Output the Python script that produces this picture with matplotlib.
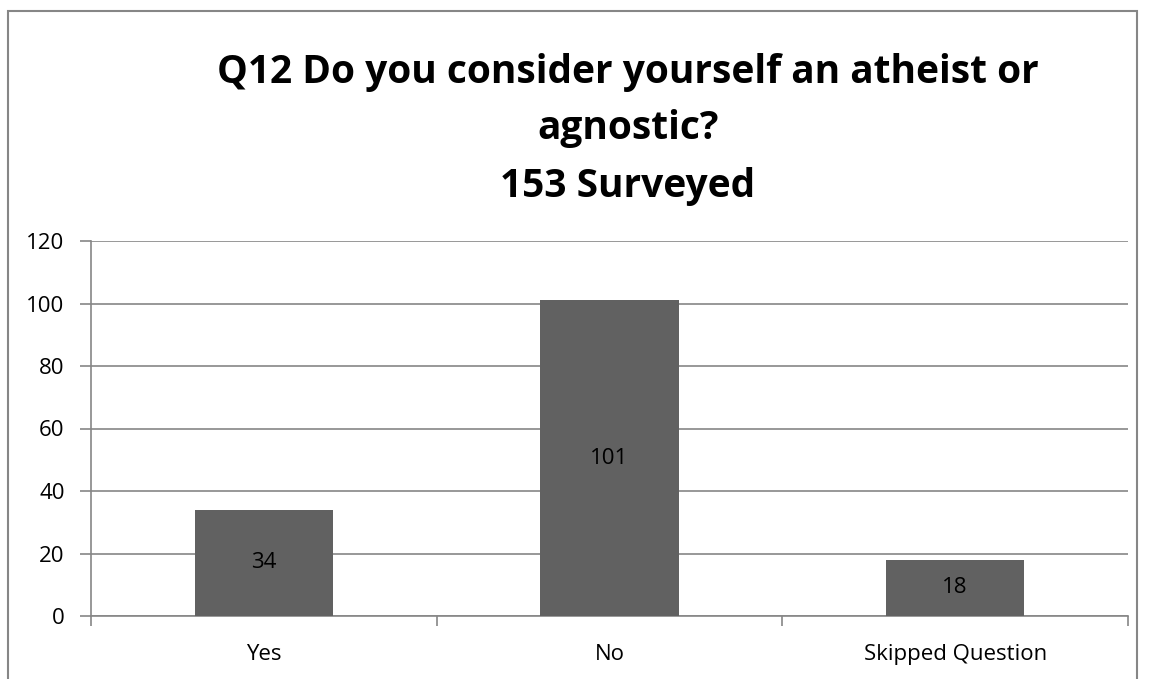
import matplotlib.pyplot as plt
from matplotlib.patches import Rectangle

# dados da pergunta
categorias = ['Yes', 'No', 'Skipped Question']
respostas = [34, 101, 18]
titulo = 'Q12 Do you consider yourself an atheist or\nagnostic?\n153 Surveyed'

plt.rcParams['font.family'] = ['Open Sans', 'DejaVu Sans']

fig = plt.figure(figsize=(11.49, 6.79), dpi=100)
ax = fig.add_axes([91/1149, 1 - 616/679, (1128 - 91)/1149, (616 - 241)/679])

cinza = '#868686'
posicoes = range(len(categorias))
ax.bar(posicoes, respostas, width=0.4, color='#616161', zorder=3)

for x, v in zip(posicoes, respostas):
    ax.text(x, v / 2, str(v), ha='center', va='center', fontsize=16, color='black', zorder=4)

ax.set_xlim(-0.5, 2.5)
ax.set_ylim(0, 120)
ax.set_yticks(range(0, 121, 20))
ax.yaxis.grid(True, color=cinza, linewidth=1.2, zorder=0)
ax.set_xticks([-0.5, 0.5, 1.5, 2.5])
ax.set_xticklabels([])
ax.set_xticks(list(posicoes), minor=True)
ax.set_xticklabels(categorias, minor=True, fontsize=16)
ax.tick_params(axis='x', which='minor', length=0, pad=20)
ax.tick_params(axis='x', which='major', length=7, color=cinza, width=1.2)
ax.tick_params(axis='y', length=8, color=cinza, width=1.2, labelsize=16, pad=11)

for lado in ['top', 'right']:
    ax.spines[lado].set_visible(False)
for lado in ['left', 'bottom']:
    ax.spines[lado].set_color(cinza)
    ax.spines[lado].set_linewidth(1.2)

fig.text(628/1149, 1 - 129/679, titulo, ha='center', va='center', fontsize=28,
         fontweight='bold', linespacing=1.6)

# borda externa do gráfico
fig.patches.append(Rectangle((8/1149, -0.1), (1137 - 8)/1149, 1.1 - 11/679,
                             transform=fig.transFigure, fill=False,
                             edgecolor=cinza, linewidth=1.5))

fig.savefig('out.png', dpi=100)
